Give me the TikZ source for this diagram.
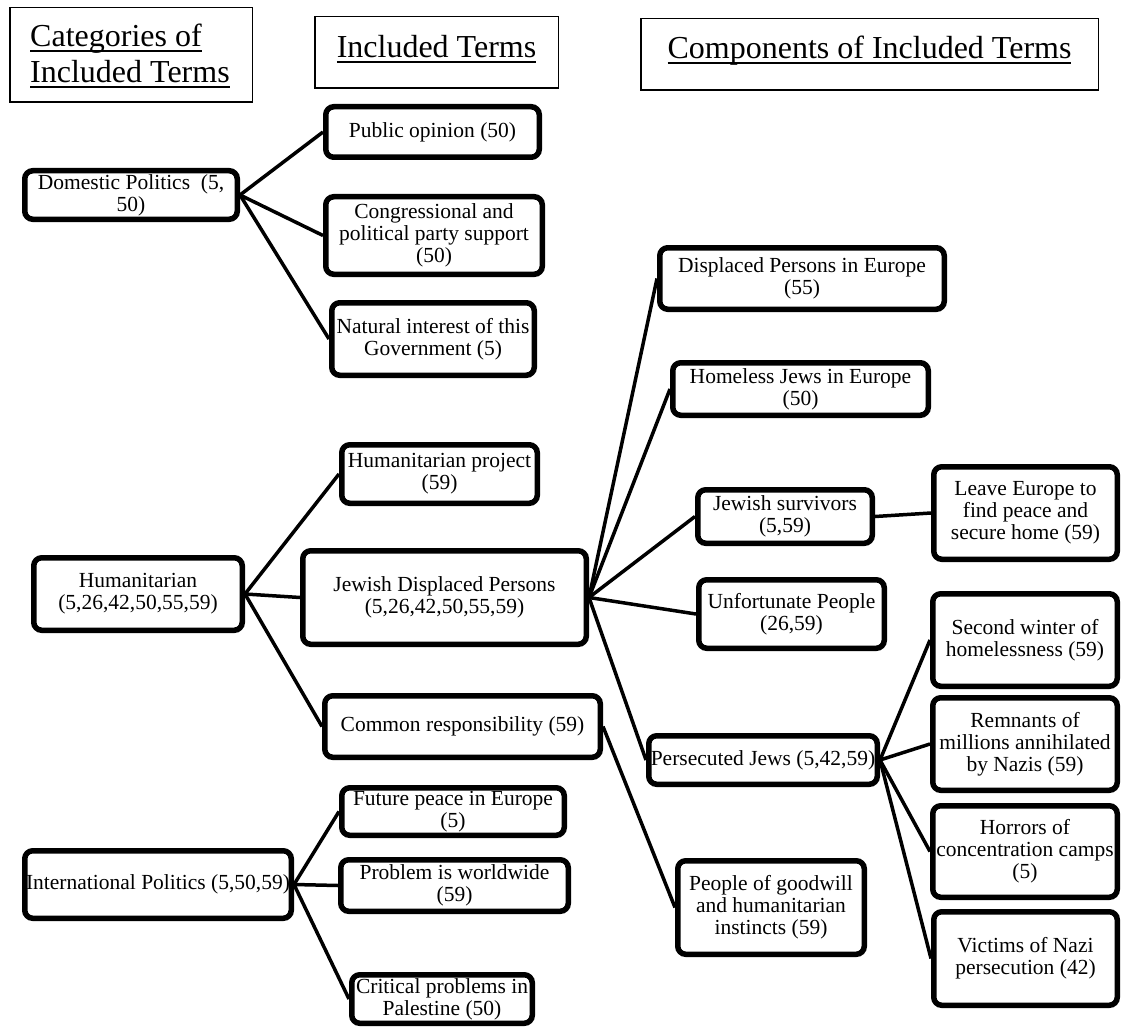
\documentclass[tikz,border=0pt]{standalone}
\usepackage{fontspec}
\setmainfont{Liberation Serif}
\newcommand{\hul}[1]{\setbox0=\hbox{#1}\rlap{\vrule width \wd0 height -3pt depth 5pt}\box0}
\newcommand{\bx}[6]{\node[bx, minimum width={#4-#2-5.5}, minimum height={#5-#3-5.5}] (#1) at ({(#2+#4)/2},{(#3+#5)/2}) {#6};}
\newcommand{\hb}[5]{\node[hbx, minimum width={#4-#2-1.5}, minimum height={#5-#3-1.5}] (#1) at ({(#2+#4)/2},{(#3+#5)/2}) {};}
\tikzset{
  bx/.style={draw, line width=5.5pt, rounded corners=8pt, align=center, inner sep=1pt, font=\fontsize{21.5}{22}\selectfont},
  hbx/.style={draw, line width=1.5pt, inner sep=0pt},
  htxt/.style={anchor=base, inner sep=0pt, font=\fontsize{32}{36}\selectfont},
  conn/.style={line width=3.5pt},
}
\begin{document}
\begin{tikzpicture}[x=1pt,y=-1pt]
\fill[white] (0,0) rectangle (1121,1027);
\useasboundingbox (0,0) rectangle (1121,1027);
% headers
\hb{h1}{9}{7}{253}{103}
\node[htxt, anchor=base west] (h1a) at (30,47) {\hul{Categories of}};
\node[htxt, anchor=base west] (h1b) at (30,83) {\hul{Included Terms}};
\hb{h2}{314}{16}{559}{89}
\node[htxt] (h2a) at (436.5,58) {\hul{Included Terms}};
\hb{h3}{640}{18}{1099}{91}
\node[htxt] (h3a) at (869.5,59) {\hul{Components of Included Terms}};
% category boxes
\bx{dom}{22}{168}{240}{222}{Domestic Politics\ \ (5,\\50)}
\bx{hum}{31}{555}{245}{633}{Humanitarian\\(5,26,42,50,55,59)}
\bx{intl}{22}{848}{294}{921}{International Politics (5,50,59)}
% included terms
\bx{pub}{323}{104}{542}{160}{Public opinion (50)}
\bx{cong}{323}{194}{545}{277}{Congressional and\\political party support\\(50)}
\bx{nat}{329}{300}{537}{378}{Natural interest of this\\Government (5)}
\bx{hproj}{339}{442}{540}{506}{Humanitarian project\\(59)}
\bx{jdp}{300}{548}{589}{647}{Jewish Displaced Persons\\(5,26,42,50,55,59)}
\bx{com}{322}{693}{603}{760}{Common responsibility (59)}
\bx{fut}{339}{785}{567}{838}{Future peace in Europe\\(5)}
\bx{prob}{338}{857}{571}{914}{Problem is worldwide\\(59)}
\bx{crit}{349}{972}{535}{1026}{Critical problems in\\Palestine (50)}
% components
\bx{dp}{657}{245}{947}{312}{Displaced Persons in Europe\\(55)}
\bx{hj}{670}{360}{931}{418}{Homeless Jews in Europe\\(50)}
\bx{js}{695}{487}{875}{546}{Jewish survivors\\(5,59)}
\bx{unf}{696}{577}{887}{651}{Unfortunate People\\(26,59)}
\bx{pj}{646}{733}{880}{787}{Persecuted Jews (5,42,59)}
\bx{gw}{675}{858}{867}{957}{People of goodwill\\and humanitarian\\instincts (59)}
\bx{leave}{931}{464}{1120}{562}{Leave Europe to\\find peace and\\secure home (59)}
\bx{sec}{930}{591}{1120}{689}{Second winter of\\homelessness (59)}
\bx{rem}{930}{695}{1120}{793}{Remnants of\\millions annihilated\\by Nazis (59)}
\bx{hor}{930}{803}{1120}{900}{Horrors of\\concentration camps\\(5)}
\bx{vic}{931}{909}{1120}{1008}{Victims of Nazi\\persecution (42)}
% connectors
\draw[conn] (dom.east) -- (pub.west);
\draw[conn] (dom.east) -- (cong.west);
\draw[conn] (dom.east) -- (nat.west);
\draw[conn] (hum.east) -- (hproj.west);
\draw[conn] (hum.east) -- (jdp.west);
\draw[conn] (hum.east) -- (com.west);
\draw[conn] (intl.east) -- (fut.west);
\draw[conn] (intl.east) -- (prob.west);
\draw[conn] (intl.east) -- (crit.west);
\draw[conn] (jdp.east) -- (dp.west);
\draw[conn] (jdp.east) -- (hj.west);
\draw[conn] (jdp.east) -- (js.west);
\draw[conn] (jdp.east) -- (unf.west);
\draw[conn] (jdp.east) -- (pj.west);
\draw[conn] (com.east) -- (gw.west);
\draw[conn] (js.east) -- (leave.west);
\draw[conn] (pj.east) -- (sec.west);
\draw[conn] (pj.east) -- (rem.west);
\draw[conn] (pj.east) -- (hor.west);
\draw[conn] (pj.east) -- (vic.west);
\end{tikzpicture}
\end{document}
